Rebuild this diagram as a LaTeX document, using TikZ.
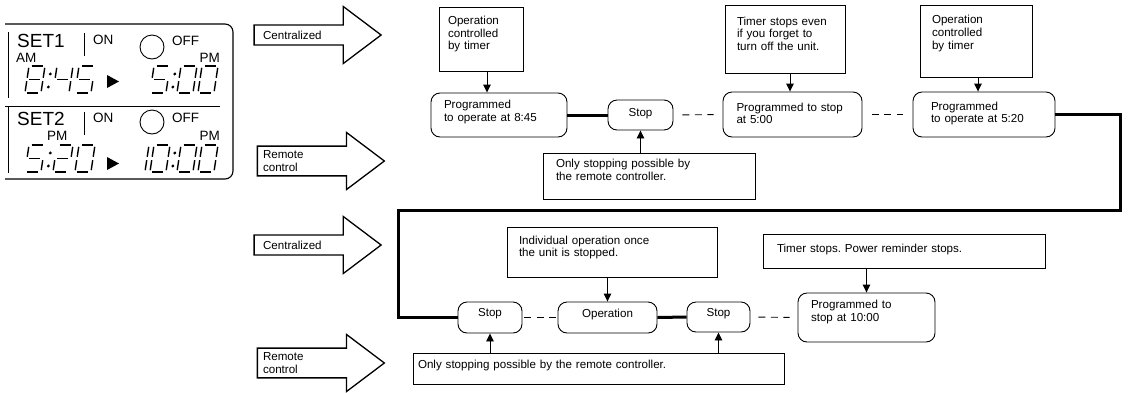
\documentclass[tikz,border=0pt]{standalone}
\usepackage{fontspec}
\setmainfont{Liberation Sans}
\usetikzlibrary{arrows.meta,shapes.arrows}
\frenchspacing

% segments of one LCD digit (cell 16 x 27, top left at origin)
\newcommand\lcda{(2.5,0) -- (13.5,0)}
\newcommand\lcdb{(16,1.8) -- (16,11.8)}
\newcommand\lcdc{(16,15.2) -- (16,25.2)}
\newcommand\lcdd{(2.5,27) -- (13.5,27)}
\newcommand\lcde{(0,15.2) -- (0,25.2)}
\newcommand\lcdf{(0,1.8) -- (0,11.8)}
\newcommand\lcdg{(2.5,13.5) -- (13.5,13.5)}
\pgfkeys{/lcd/.cd,
  0/.initial={a,b,c,d,e,f}, 1/.initial={b,c}, 2/.initial={a,b,g,e,d},
  4/.initial={f,g,b,c}, 5/.initial={a,f,g,c,d}, 8/.initial={a,b,c,d,e,f,g}}

\tikzset{
  every node/.style={font=\fontsize{11.6}{12.6}\selectfont, inner ysep=2pt},
  lift/.style={execute at end node={\par\kern#1}},
  memo/.style={draw, line width=0.9pt, align=left},
  state/.style={draw, line width=0.9pt, rounded corners=9pt, align=left},
  button/.style={state, align=center},
  bigarrow/.style={draw, single arrow, line width=1.3pt, minimum height=127pt,
    minimum width=57pt, single arrow head extend=11pt, single arrow tip angle=74,
    inner ysep=1pt, text width=96pt, align=left},
  flow/.style={line width=0.9pt, -{Triangle[width=7.5pt,length=8pt]}},
  wire/.style={line width=3pt},
  dashlink/.style={line width=0.9pt, dash pattern=on 7pt off 5.5pt,
    shorten <=#1, shorten >=#1},
  lcdline/.style={line width=1.4pt},
  lcdbig/.style={font=\fontsize{19}{19}\selectfont, inner sep=0pt},
  lcdsmall/.style={font=\fontsize{13.5}{13.5}\selectfont, inner sep=0pt},
  pics/lcd/.style={code={
    \pgfkeysgetvalue{/lcd/#1}\lcdsegs
    \foreach \s in \lcdsegs {\draw[lcdline] \csname lcd\s\endcsname;}
  }},
  pics/lcdcolon/.style={code={
    \fill (0,8) circle (1.6pt);
    \fill (0,21) circle (1.6pt);
  }},
}

\begin{document}
\begin{tikzpicture}[x=1pt, y=-1pt]
\useasboundingbox (0,0) rectangle (1141,392);

% timer panel
\draw[line width=1.1pt, rounded corners=8pt] (5,24) -| (233,179) -- (5,179);
\draw[line width=0.9pt] (5,106) -- (220,106);
\draw[line width=0.9pt] (8,32) -- (8,98);
\draw[line width=0.9pt] (8,107) -- (8,173);
\draw[line width=0.9pt] (84,33) -- (84,56);
\draw[line width=0.9pt] (84,112) -- (84,135);
\draw[line width=0.9pt] (152,47) circle (12pt);
\draw[line width=0.9pt] (152,122) circle (12pt);
\node[lcdbig, anchor=base west] (set1) at (17,47) {SET1};
\node[lcdbig, anchor=base west] (set2) at (17,125) {SET2};
\node[lcdsmall, anchor=base west] (on1) at (93,44) {ON};
\node[lcdsmall, anchor=base west] (on2) at (93,122) {ON};
\node[lcdsmall, anchor=base west] (off1) at (172,45) {OFF};
\node[lcdsmall, anchor=base west] (off2) at (172,122) {OFF};
\node[lcdsmall, anchor=base west] (am1) at (16,62) {AM};
\node[lcdsmall, anchor=base west] (pm1) at (47,140) {PM};
\node[lcdsmall, anchor=base east] (pm2) at (220,62) {PM};
\node[lcdsmall, anchor=base east] (pm3) at (220,140) {PM};

% 8:45 > 5:00
\pic[xslant=0.15] at (29,66) {lcd=8};
\pic[xslant=0.15] at (51.5,66) {lcdcolon};
\pic[xslant=0.15] at (57,66) {lcd=4};
\pic[xslant=0.15] at (79,66) {lcd=5};
\fill (107,75) -- (119,81.5) -- (107,88) -- cycle;
\pic[xslant=0.15] at (154,66) {lcd=5};
\pic[xslant=0.15] at (176,66) {lcdcolon};
\pic[xslant=0.15] at (181,66) {lcd=0};
\pic[xslant=0.15] at (202,66) {lcd=0};

% 5:20 > 10:00
\pic[xslant=0.15] at (29,145) {lcd=5};
\pic[xslant=0.15] at (51.5,145) {lcdcolon};
\pic[xslant=0.15] at (57,145) {lcd=2};
\pic[xslant=0.15] at (79,145) {lcd=0};
\fill (107,157) -- (119,163.5) -- (107,170) -- cycle;
\pic[xslant=0.15] at (133,145) {lcd=1};
\pic[xslant=0.15] at (154,145) {lcd=0};
\pic[xslant=0.15] at (176,145) {lcdcolon};
\pic[xslant=0.15] at (181,145) {lcd=0};
\pic[xslant=0.15] at (202,145) {lcd=0};

% block arrows
\node[bigarrow] (cen1) at (311,35) {Centralized};
\node[bigarrow] (rem1) at (311,161) {Remote\\control};
\node[bigarrow] (cen2) at (311,245) {Centralized};
\node[bigarrow] (rem2) at (311,363) {Remote\\control};

% upper row
\node[memo, minimum width=84pt, minimum height=64pt, text width=66pt, lift=10pt]
  (t1) at (481,39) {Operation\\controlled\\by timer};
\node[state, minimum width=136pt, minimum height=44pt, text width=110pt, lift=6pt]
  (p1) at (499,115) {Programmed\\to operate at 8:45};
\node[button, minimum width=65pt, minimum height=30pt, text width=50pt, lift=2pt]
  (s) at (640.5,115) {Stop};
\node[memo, minimum width=212pt, minimum height=46pt, text width=186pt, lift=12pt]
  (n1) at (649,176) {Only stopping possible by\\the remote controller.};
\node[memo, minimum width=120pt, minimum height=68pt, text width=96pt, lift=11pt]
  (t2) at (785,39) {Timer stops even\\if you forget to\\turn off the unit.};
\node[state, minimum width=139pt, minimum height=45pt, text width=112pt, lift=2pt]
  (p2) at (792.5,114.5) {Programmed to stop\\at 5:00};
\node[memo, minimum width=112pt, minimum height=72pt, text width=88pt, lift=15pt]
  (t3) at (976,41) {Operation\\controlled\\by timer};
\node[state, minimum width=142pt, minimum height=45pt, text width=106pt, lift=2pt]
  (p3) at (984,114.5) {Programmed\\to operate at 5:20};

\draw[flow] ([xshift=6pt]t1.south) -- ([xshift=6pt]t1.south |- p1.north);
\draw[flow] (n1.north -| s.south) -- (s.south);
\draw[flow] ([xshift=5pt]t2.south) -- ([xshift=5pt]t2.south |- p2.north);
\draw[flow] ([xshift=2pt]t3.south) -- ([xshift=2pt]t3.south |- p3.north);
\draw[wire] (p1.east) -- (s.west);
\draw[dashlink=9pt] (s.east) -- (p2.west);
\draw[dashlink=9.5pt] (p2.east) -- (p3.west);

% lower row
\node[button, minimum width=64pt, minimum height=31pt, text width=50pt, lift=7pt]
  (s1) at (490,317.5) {Stop};
\node[button, minimum width=99pt, minimum height=31pt, text width=80pt, lift=7pt]
  (op) at (607.5,317.5) {Operation};
\node[button, minimum width=63pt, minimum height=30pt, text width=50pt, lift=7pt]
  (s2) at (718.5,317) {Stop};
\node[state, minimum width=137pt, minimum height=49pt, text width=111pt, lift=11pt]
  (p4) at (866.5,317.5) {Programmed to\\stop at 10:00};
\node[memo, minimum width=210pt, minimum height=50pt, text width=186pt, lift=9pt]
  (ind) at (612,252) {Individual operation once\\the unit is stopped.};
\node[memo, minimum width=282pt, minimum height=34pt, text width=254pt, lift=4pt]
  (ts) at (904,251) {Timer stops. Power reminder stops.};
\node[memo, minimum width=371pt, minimum height=31pt, text width=361pt, lift=7pt]
  (n2) at (598.5,368.5) {Only stopping possible by the remote controller.};

\draw[flow] (ind.south -| op.north) -- (op.north);
\draw[flow] (ts.south -| p4.north) -- (p4.north);
\draw[flow] (n2.north -| s1.south) -- (s1.south);
\draw[flow] (n2.north -| s2.south) -- (s2.south);
\draw[dashlink=2pt] (s1.east) -- (op.west);
\draw[wire] (op.east) -- (s2.west);
\draw[dashlink=8pt] (s2.east) -- (p4.west);

% link between the rows
\coordinate (c1) at (1120,210);
\coordinate (c2) at (398,210);
\draw[wire] (p3.east) -| (c1) -- (c2) |- (s1.west);
\end{tikzpicture}
\end{document}
